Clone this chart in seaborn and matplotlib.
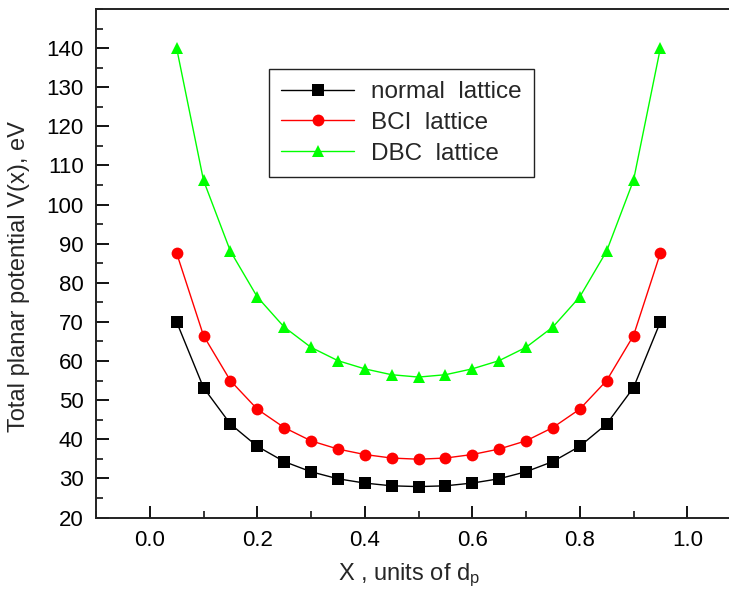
import numpy as np
import pandas as pd
import matplotlib.pyplot as plt
import seaborn as sns
from matplotlib.ticker import MultipleLocator

# data
x_vals = [0.05, 0.10, 0.15, 0.20, 0.25, 0.30, 0.35, 0.40, 0.45, 0.50,
          0.55, 0.60, 0.65, 0.70, 0.75, 0.80, 0.85, 0.90, 0.95]
normal = [70.0, 53.2, 43.9, 38.2, 34.3, 31.7, 29.9, 28.8, 28.1, 27.9,
          28.1, 28.8, 29.9, 31.7, 34.3, 38.2, 43.9, 53.2, 70.0]
bci = [87.6, 66.5, 55.0, 47.7, 43.0, 39.6, 37.5, 36.1, 35.2, 34.9,
       35.2, 36.1, 37.5, 39.6, 43.0, 47.7, 55.0, 66.5, 87.6]
dbc = [140.0, 106.2, 88.1, 76.4, 68.7, 63.5, 60.1, 58.0, 56.5, 55.9,
       56.5, 58.0, 60.1, 63.5, 68.7, 76.4, 88.1, 106.2, 140.0]
labels = ['normal  lattice', 'BCI  lattice', 'DBC  lattice']

df = pd.concat([
    pd.DataFrame({'x': x_vals, 'V': normal, 'lattice': labels[0]}),
    pd.DataFrame({'x': x_vals, 'V': bci, 'lattice': labels[1]}),
    pd.DataFrame({'x': x_vals, 'V': dbc, 'lattice': labels[2]}),
])

sns.set_style('ticks')
plt.rcParams['font.family'] = ['Liberation Sans', 'DejaVu Sans']
plt.rcParams['mathtext.fontset'] = 'custom'
plt.rcParams['mathtext.rm'] = 'Liberation Sans'
plt.rcParams['mathtext.it'] = 'Liberation Sans'

fig = plt.figure(figsize=(7.29, 5.93), dpi=100)
ax = fig.add_axes([96 / 729, 75.5 / 593, 645 / 729, 508.5 / 593])

palette = {labels[0]: '#000000', labels[1]: '#ff0000', labels[2]: '#00ff00'}
markers = {labels[0]: 's', labels[1]: 'o', labels[2]: '^'}
sns.lineplot(data=df, x='x', y='V', hue='lattice', style='lattice',
             palette=palette, markers=markers, dashes=False,
             markersize=8.5, markeredgewidth=0, linewidth=1, ax=ax)

ax.set_xlim(-0.1, 1.1)
ax.set_ylim(20, 150)
ax.xaxis.set_major_locator(MultipleLocator(0.2))
ax.xaxis.set_minor_locator(MultipleLocator(0.1))
ax.yaxis.set_major_locator(MultipleLocator(10))
ax.yaxis.set_minor_locator(MultipleLocator(5))
ax.set_yticks(np.arange(20, 141, 10))
ax.tick_params(which='major', direction='in', length=9, width=1.3,
               labelsize=16, colors='black', pad=9)
ax.tick_params(which='minor', direction='in', length=5, width=1.3)
for s in ax.spines.values():
    s.set_linewidth(1.4)
    s.set_color('#222222')

ax.set_xlabel('X , units of d$_\\mathrm{p}$', fontsize=17)
ax.set_ylabel('Total planar potential V(x), eV', fontsize=17)
ax.xaxis.set_label_coords(0.486, -0.087)
ax.yaxis.set_label_coords(-0.103, 0.473)

handles, _ = ax.get_legend_handles_labels()
leg = ax.legend(handles, labels, loc='upper left',
                bbox_to_anchor=(173 / 645, 1 - 60 / 508.5),
                fontsize=17.5, frameon=True, fancybox=False, framealpha=1,
                edgecolor='#222222', handlelength=3.0, borderpad=0.5,
                labelspacing=0.36, handletextpad=0.7, borderaxespad=0)
leg.get_frame().set_linewidth(1.0)

fig.savefig('out.png', dpi=100)
